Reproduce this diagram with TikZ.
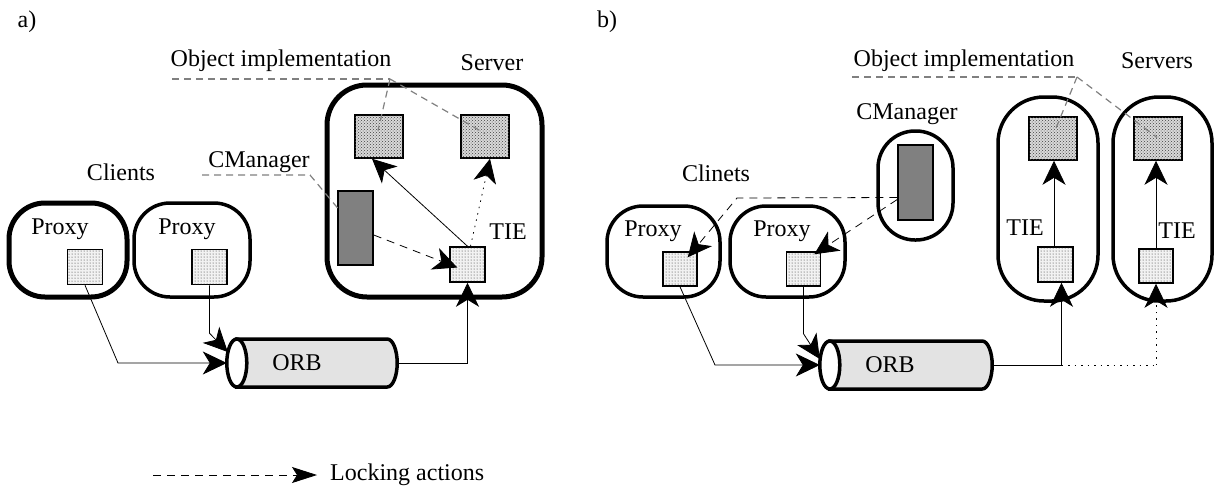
\documentclass[tikz,border=0pt]{standalone}
\usepackage{fontspec}
\setmainfont{Liberation Serif}
\usetikzlibrary{arrows.meta,patterns,calc}
\begin{document}
\begin{tikzpicture}[x=1pt,y=-1pt,
  lbl/.style={font=\fontsize{24}{28}\selectfont, inner sep=0pt},
  hostbox/.style={draw, line width=3.5pt, rounded corners=36pt, inner sep=0pt},
  objbox/.style={draw, line width=1.5pt, fill=gray!30, postaction={pattern=crosshatch dots, pattern color=black!75}, minimum width=48pt, minimum height=43pt, inner sep=0pt},
  smallsq/.style={draw, line width=1.5pt, fill=gray!10, postaction={pattern=dots, pattern color=black!85}, minimum width=35pt, minimum height=35pt, inner sep=0pt},
  cmrect/.style={draw, line width=1.5pt, fill=black!50, minimum width=35pt, minimum height=74pt, inner sep=0pt},
  orbbox/.style={minimum width=170pt, minimum height=48pt, inner sep=0pt},
  orbbody/.style={fill=gray!22, line width=3.5pt},
  arr/.style={-{Stealth[length=24pt,width=23pt,inset=7pt]}, line width=0.8pt},
  lockarr/.style={arr, dash pattern=on 8pt off 6pt},
  legarr/.style={-{Stealth[length=25pt,width=16pt,inset=5pt]}, line width=0.8pt, dash pattern=on 8pt off 6pt},
  dotarr/.style={arr, dash pattern=on 1.5pt off 5pt},
  dotline/.style={line width=0.9pt, dash pattern=on 1.5pt off 5pt},
  plain/.style={line width=0.8pt},
  guide/.style={gray, line width=1.2pt, dash pattern=on 7pt off 5pt}
]
\useasboundingbox (0,0) rectangle (1214,488);

% ---------------- panel a ----------------
\node[lbl] (la) at (27,22) {a)};
\node[lbl] (clientsA) at (121,172) {Clients};
\node[hostbox, line width=5pt, minimum width=118pt, minimum height=94pt] (proxA1) at (68,250) {};
\node[hostbox, minimum width=116pt, minimum height=94pt] (proxA2) at (192,250) {};
\node[lbl] (ptA1) at (60,229) {Proxy};
\node[lbl] (ptA2) at (187,229) {Proxy};
\node[smallsq] (sqA1) at (85,267) {};
\node[smallsq] (sqA2) at (209.5,267) {};

\node[hostbox, line width=5pt, rounded corners=40pt, minimum width=215pt, minimum height=212pt] (servA) at (434.5,191) {};
\node[lbl] (servAlbl) at (492,63) {Server};
\node[objbox] (objA1) at (379,136.5) {};
\node[objbox] (objA2) at (485,136.5) {};
\node[cmrect] (cmA) at (355.5,228) {};
\node[smallsq] (tieA) at (467.5,264.5) {};
\node[lbl] (tieAlbl) at (508,232) {TIE};

% ORB cylinder (a)
\node[orbbox] (orbA) at (312,363) {};
\coordinate (oAL) at ($(orbA.west)+(10,0)$);
\coordinate (oAR) at ($(orbA.east)+(-10,0)$);
\filldraw[orbbody] ($(oAL)+(0,-24)$) -- ($(oAR)+(0,-24)$) arc[start angle=-90,end angle=90,x radius=10,y radius=24] -- ($(oAL)+(0,24)$) -- cycle;
\filldraw[fill=white, line width=3.5pt] (oAL) ellipse[x radius=10, y radius=24];
\node[lbl] (orbAlbl) at (297,363) {ORB};

\node[lbl] (oiA) at (281,61) {Object implementation};
\coordinate (oiAk) at (390,79);
\draw[guide] (172,79) -- (oiAk);
\draw[guide] (oiAk) -- ($(objA1.center)+(-1,-6)$);
\draw[guide] (oiAk) -- ($(objA2.center)+(0,-3)$);

\node[lbl] (cmAlbl) at (259,162) {CManager};
\coordinate (cmAk) at (310,175);
\draw[guide] (202,175) -- (cmAk) -- ($(cmA.center)+(-2,-1)$);

\draw[arr] (sqA1.south) -- (118,363) -- (orbA.west);
\draw[arr] (sqA2.south) -- ++(0,48) -- ([xshift=1pt,yshift=11pt]orbA.west);
\draw[arr] (orbA.east) -| (tieA.south);
\draw[arr] (tieA.north) -- ($(objA1.south)+(-7,0)$);
\draw[dotarr] ($(tieA.north)+(3,0)$) -- ($(objA2.south)+(5,0)$);
\draw[lockarr] ($(cmA.east)+(0,7)$) -- ($(tieA.west)+(8,3)$);

% ---------------- panel b ----------------
\node[lbl] (lb) at (607,22) {b)};
\node[lbl] (clientsB) at (716,173) {Clinets};
\node[hostbox, minimum width=113pt, minimum height=91pt] (proxB1) at (663.5,251.5) {};
\node[hostbox, minimum width=115pt, minimum height=91pt] (proxB2) at (787.5,251.5) {};
\node[lbl] (ptB1) at (653,231) {Proxy};
\node[lbl] (ptB2) at (782,231) {Proxy};
\node[smallsq, minimum width=34pt, minimum height=34pt] (sqB1) at (680,269) {};
\node[smallsq, minimum width=34pt, minimum height=34pt] (sqB2) at (803.5,269) {};

\node[hostbox, rounded corners=37pt, minimum width=75pt, minimum height=109pt] (cmBbox) at (915.5,185.5) {};
\node[cmrect, minimum height=75pt] (cmB) at (915.5,182.5) {};
\node[lbl] (cmBlbl) at (907,114) {CManager};

\node[hostbox, rounded corners=46pt, minimum width=100pt, minimum height=204pt] (servB1) at (1048,199) {};
\node[hostbox, rounded corners=46pt, minimum width=99pt, minimum height=204pt] (servB2) at (1162.5,199) {};
\node[lbl] (servBlbl) at (1157,61) {Servers};
\node[objbox] (objB1) at (1053,138.5) {};
\node[objbox] (objB2) at (1158,138.5) {};
\node[smallsq] (tieB1) at (1055.5,264.5) {};
\node[smallsq, minimum width=34pt, minimum height=34pt] (tieB2) at (1156,266) {};
\node[lbl] (tieB1lbl) at (1025,228) {TIE};
\node[lbl] (tieB2lbl) at (1177,231) {TIE};

% ORB cylinder (b)
\node[orbbox, minimum width=172pt] (orbB) at (906,365) {};
\coordinate (oBL) at ($(orbB.west)+(10,0)$);
\coordinate (oBR) at ($(orbB.east)+(-10,0)$);
\filldraw[orbbody] ($(oBL)+(0,-24)$) -- ($(oBR)+(0,-24)$) arc[start angle=-90,end angle=90,x radius=10,y radius=24] -- ($(oBL)+(0,24)$) -- cycle;
\filldraw[fill=white, line width=3.5pt] (oBL) ellipse[x radius=10, y radius=24];
\node[lbl] (orbBlbl) at (890,365) {ORB};

\node[lbl] (oiB) at (964,61) {Object implementation};
\coordinate (oiBk) at (1077,77);
\draw[guide] (852,77) -- (oiBk);
\draw[guide] (oiBk) -- ($(objB1.center)+(2,-8)$);
\draw[guide] (oiBk) -- ($(objB2.center)+(-1,-1)$);

\coordinate (cmBk) at (737,198);
\draw[lockarr] ($(cmB.west)+(0,15)$) -- (cmBk) -- ($(sqB1.north east)+(-10,6)$);
\draw[lockarr] ($(cmB.west)+(0,17)$) -- ($(sqB2.north east)+(-7,3)$);

\draw[arr] (sqB1.south) -- (715,365) -- (orbB.west);
\draw[arr] (sqB2.south) -- ++(0,47) -- ([yshift=6pt]orbB.west);
\coordinate (tieB1in) at ($(tieB1.south)+(6,0)$);
\coordinate (splitB) at (tieB1in |- orbB.east);
\draw[plain] (orbB.east) -- (splitB);
\draw[arr] (splitB) -- (tieB1in);
\draw[dotline] (splitB) -- (tieB2.south |- splitB);
\draw[dotarr] (tieB2.south |- splitB) -- (tieB2.south);
\draw[arr] ($(tieB1.north)+(-1.5,0)$) -- ($(objB1.south)+(1,0)$);
\draw[arr] (tieB2.north) -- (tieB2.north |- objB2.south);

% ---------------- legend ----------------
\coordinate (legS) at (153,475);
\node[lbl, anchor=west] (legT) at (330,475) {Locking actions};
\draw[legarr] (legS) -- ($(legT.west)+(-13,0)$);
\end{tikzpicture}
\end{document}
